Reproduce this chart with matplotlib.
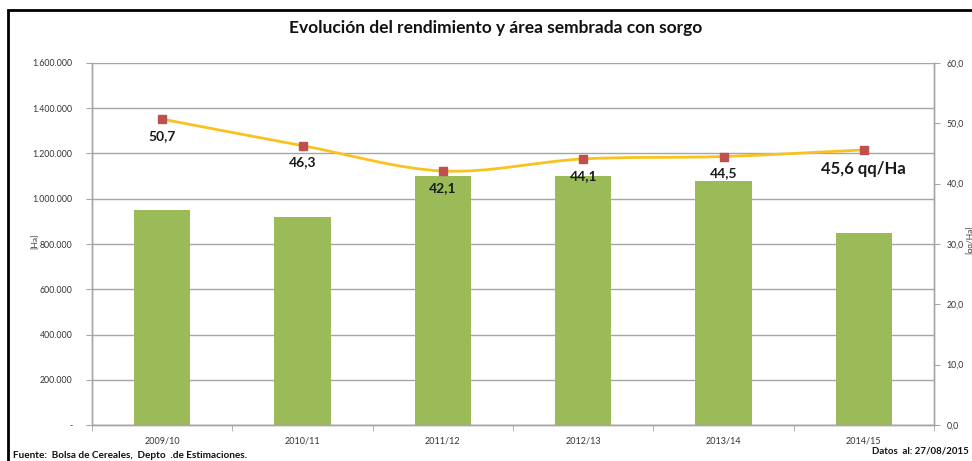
import matplotlib
matplotlib.use("Agg")
import matplotlib.pyplot as plt
import numpy as np
from matplotlib.path import Path
from matplotlib.patches import PathPatch, Rectangle
from matplotlib.ticker import FuncFormatter, FixedLocator

plt.rcParams['font.family'] = ['Lato', 'DejaVu Sans']

campaigns = ["2009/10", "2010/11", "2011/12", "2012/13", "2013/14", "2014/15"]
area_ha = [950000, 920000, 1100000, 1100000, 1080000, 850000]
yield_qq = [50.7, 46.3, 42.1, 44.1, 44.5, 45.6]
yield_labels = ["50,7", "46,3", "42,1", "44,1", "44,5", "45,6 qq/Ha"]

W, H = 972, 461
fig = plt.figure(figsize=(W / 100, H / 100), dpi=100)
ax = fig.add_axes([92 / W, (H - 425) / H, (934 - 92) / W, (425 - 63) / H])
ax2 = ax.twinx()

grid_c = "#A6A6A6"
x = np.arange(len(campaigns))
ax.bar(x, area_ha, width=0.4, color="#9BBB59", zorder=2)
ax.set_xlim(-0.5, len(campaigns) - 0.5)
ax.set_ylim(0, 1600000)
ax.yaxis.set_major_locator(FixedLocator(np.arange(0, 1600001, 200000)))
ax.yaxis.set_major_formatter(FuncFormatter(
    lambda v, p: "-" if v == 0 else f"{int(v):,}".replace(",", ".")))
ax.grid(axis="y", color=grid_c, lw=1.0, zorder=0)
ax.set_axisbelow(True)
ax.set_xticks(x)
ax.set_xticklabels(campaigns)
ax.set_xticks(np.arange(-0.5, len(campaigns) + 0.5, 1), minor=True)
ax.tick_params(axis="x", which="major", length=0, labelsize=6.5, colors="#333333", pad=8)
ax.tick_params(axis="x", which="minor", length=4, color=grid_c, direction="out")
ax.tick_params(axis="y", length=4, color=grid_c, labelsize=6.3, labelcolor="#333333", pad=10)
for a in (ax, ax2):
    a.spines["top"].set_visible(False)
    for s in ["left", "right", "bottom"]:
        a.spines[s].set_color(grid_c)
        a.spines[s].set_linewidth(1.0)

ax2.set_ylim(0, 60)
ax2.yaxis.set_major_locator(FixedLocator(np.arange(0, 61, 10)))
ax2.yaxis.set_major_formatter(FuncFormatter(lambda v, p: f"{v:.1f}".replace(".", ",")))
ax2.tick_params(axis="y", length=4, color=grid_c, labelsize=6.3, labelcolor="#333333", pad=5)

# smoothed line (Excel-like Catmull-Rom converted to cubic Bezier segments)
px = list(x.astype(float))
py = list(yield_qq)
n = len(px)
verts = [(px[0], py[0])]
codes = [Path.MOVETO]
t = 1 / 6
for i in range(n - 1):
    p0 = (px[i - 1], py[i - 1]) if i > 0 else (px[i], py[i])
    p1 = (px[i], py[i])
    p2 = (px[i + 1], py[i + 1])
    p3 = (px[i + 2], py[i + 2]) if i + 2 < n else (px[i + 1], py[i + 1])
    c1 = (p1[0] + (p2[0] - p0[0]) * t, p1[1] + (p2[1] - p0[1]) * t)
    c2 = (p2[0] - (p3[0] - p1[0]) * t, p2[1] - (p3[1] - p1[1]) * t)
    verts += [c1, c2, p2]
    codes += [Path.CURVE4] * 3
ax2.add_patch(PathPatch(Path(verts, codes), facecolor="none",
                        edgecolor="#F9C31F", lw=2.0, zorder=3))
ax2.plot(x, yield_qq, ls="none", marker="s", ms=5.5, color="#C0504D", zorder=4)

for i, (xi, yi, lab) in enumerate(zip(x, yield_qq, yield_labels)):
    big = i == len(x) - 1
    ax2.annotate(lab, (xi, yi), xytext=(0, -14 if big else -12),
                 textcoords="offset points", ha="center", va="center",
                 fontsize=12 if big else 10, fontweight="bold", color="#1a1a1a", zorder=5)

fig.text(496 / W, 1 - 28 / H, "Evolución del rendimiento y área sembrada con sorgo",
         ha="center", va="center", fontsize=12.5, fontweight="bold", color="#111111")
fig.text(35 / W, 1 - 241 / H, "[Ha]", rotation=90, ha="center", va="center",
         fontsize=6, color="#333333")
fig.text(969 / W, 1 - 240 / H, "[qq/Ha]", rotation=90, ha="center", va="center",
         fontsize=6, color="#333333")
fig.text(13 / W, 1 - 455 / H, "Fuente:  Bolsa de Cereales,  Depto  .de Estimaciones.",
         ha="left", va="center", fontsize=7.2, fontweight="bold", color="#111111")
fig.text(969 / W, 1 - 451 / H, "Datos  al: 27/08/2015",
         ha="right", va="center", fontsize=6.9, fontweight="bold", color="#111111")

fig.patches.append(Rectangle((7.5 / W, -0.1), 1.2, 1 - 10.5 / H + 0.1,
                             transform=fig.transFigure, fill=False,
                             edgecolor="black", lw=2.0))

fig.savefig("out.png", dpi=100)
